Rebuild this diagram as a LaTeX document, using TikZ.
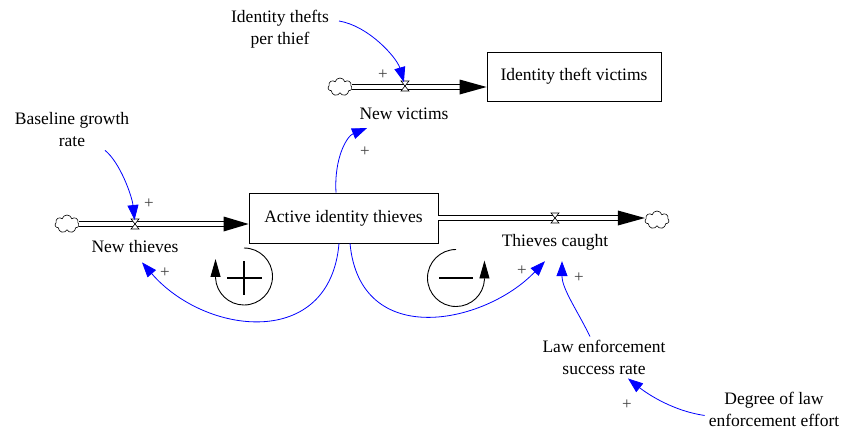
\documentclass[tikz,border=0pt]{standalone}
\usepackage{fontspec}
\setmainfont{Liberation Serif}
\usetikzlibrary{arrows.meta,shapes.symbols}
\begin{document}
\begin{tikzpicture}[x=1pt,y=-1pt,
 lbl/.style={font=\fontsize{17.5}{22}\selectfont, align=center, inner sep=0pt},
 stock/.style={draw, line width=0.8pt, rectangle, inner sep=0pt, font=\fontsize{17.5}{22}\selectfont},
 cloudnode/.style={cloud, cloud puffs=7, cloud ignores aspect, draw, line width=0.6pt, minimum width=24pt, minimum height=18pt, inner sep=0pt},
 pipe/.style={draw=black, line width=0.8pt, double=white, double distance=3.5pt},
 link/.style={blue, line width=0.8pt, -{Triangle[length=15pt,width=11pt]}},
 pol/.style={text=black!75, font=\fontsize{17}{17}\selectfont, inner sep=0pt},
 loopc/.style={line width=0.9pt, -{Triangle[length=18pt,width=10pt]}},
 sign/.style={line width=2pt},
 valve/.pic={\draw[line width=0.6pt, fill=white] (-4,-5) -- (4,-5) -- (-4,5) -- (4,5) -- cycle;}]
\path[use as bounding box] (0,0) rectangle (844,429);
% stocks
\node[stock, minimum width=189pt, minimum height=50pt] (ait) at (343.5,218) {Active identity thieves};
\node[stock, minimum width=174pt, minimum height=49pt] (itv) at (574,76.5) {Identity theft victims};
% clouds
\node[cloudnode] (c1) at (67,224) {};
\node[cloudnode] (c2) at (340,87) {};
\node[cloudnode] (c3) at (657,220) {};
% valves
\coordinate (vnt) at (135,224);
\coordinate (vnv) at (405,86);
\coordinate (vtc) at (555,218);
% pipes
\draw[pipe] (c1.east) -- ([xshift=-24pt]ait.west |- c1.east);
\fill (ait.west |- c1.east) -- ++(-25,7.5) -- ++(0,-15) -- cycle;
\draw[pipe] (c2.east) -- ([xshift=-26pt]itv.west |- c2.east);
\fill (itv.west |- c2.east) -- ++(-27,7.5) -- ++(0,-15) -- cycle;
\draw[pipe] (ait.east) -- ([xshift=-26pt]c3.west |- ait.east);
\fill (c3.west |- ait.east) -- ++(-27,7.5) -- ++(0,-15) -- cycle;
\pic at (vnt) {valve};
\pic at (vnv) {valve};
\pic at (vtc) {valve};
% labels
\node[lbl] (nt) at (135,247) {New thieves};
\node[lbl] (nv) at (404,114) {New victims};
\node[lbl] (tc) at (555,242) {Thieves caught};
\node[lbl] (itp) at (280,29) {Identity thefts\\per thief};
\node[lbl] (bgr) at (72,130) {Baseline growth\\rate};
\node[lbl] (les) at (604,357) {Law enforcement\\success rate};
\node[lbl] (dle) at (774,409) {Degree of law\\enforcement effort};
% links
\draw[link, shorten >=4pt] ([shift={(10,-8)}]itp.east) .. controls +(30,5) and +(-8,-28) .. (vnv);
\draw[link] ([xshift=-7.5pt]ait.north) .. controls +(-2,-35) and +(-20,8) .. ([shift={(-37,8)}]nv.south);
\draw[link, shorten >=4pt] ([shift={(33,3)}]bgr.south) .. controls +(15,12) and +(-3,-28) .. (vnt);
\draw[link] ([xshift=-4.5pt]ait.south) .. controls +(-9,107) and +(63,73) .. ([shift={(7,9)}]nt.south);
\draw[link] ([xshift=6.5pt]ait.south) .. controls +(10,107) and +(-60,63) .. ([shift={(-10,11)}]tc.south);
\draw[link] ([shift={(-14,-3)}]les.north) .. controls +(-12,-25) and +(0,28) .. ([shift={(7,11)}]tc.south);
\draw[link] ([shift={(-4,-11)}]dle.south west) .. controls +(-35,-5) and +(15,12) .. ([shift={(24,4)}]les.south);
% polarities
\node[pol] (p1) at (383,75) {+};
\node[pol] (p2) at (365,152) {+};
\node[pol] (p3) at (149,204) {+};
\node[pol] (p4) at (165,273) {+};
\node[pol] (p5) at (522,271) {+};
\node[pol] (p6) at (579,278) {+};
\node[pol] (p7) at (627,405) {+};
% loop symbols
\draw[loopc] (244,276.5) ++(90:28.5pt) arc[start angle=90, end angle=-177, radius=28.5pt] -- ++(0,-19);
\draw[sign] (227,278) -- (262,278);
\draw[sign] (244,261) -- (244,295);
\draw[loopc] (456,278) ++(90:28.5pt) arc[start angle=90, end angle=357, radius=28.5pt] -- ++(0,-19);
\draw[sign] (439,278) -- (473,278);
\end{tikzpicture}
\end{document}
